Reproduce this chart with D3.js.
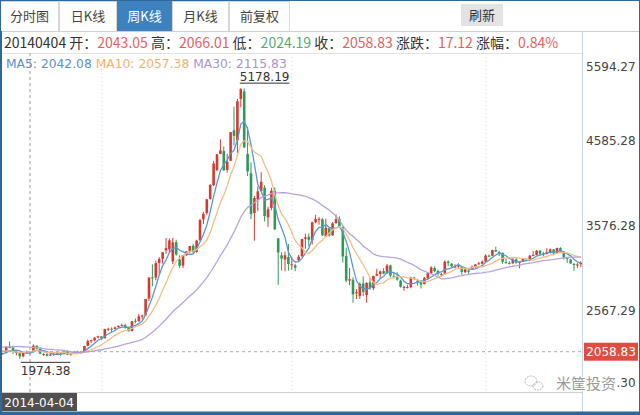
<!DOCTYPE html>
<html>
<head>
<meta charset="utf-8">
<script src="https://cdn.jsdelivr.net/npm/d3@7"></script>
<style>
body { margin: 0; background: #fff; }
text { font-family: "DejaVu Sans", "Noto Sans CJK SC", sans-serif; }
.cjk { font-family: "Noto Sans CJK SC", "DejaVu Sans", sans-serif; }
</style>
</head>
<body>
<div id="kline"></div>
<script>
// ---- DATOS ----
var tabNames = ['分时图', '日K线', '周K线', '月K线', '前复权'];
var activeTab = 2;
var refreshLabel = '刷新';

var infoDate = '20140404';
var infoLabels = ['开', '高', '低', '收', '涨跌', '涨幅'];
var infoValues = ['2043.05', '2066.01', '2024.19', '2058.83', '17.12', '0.84%'];
var infoUp = [true, true, false, true, true, true];

var maNames = ['MA5', 'MA10', 'MA30'];
var maPeriods = [5, 10, 30];
var maValues = ['2042.08', '2057.38', '2115.83'];

var axisTicks = [5594.27, 4585.28, 3576.28, 2567.29, 1558.30];
var crossIdx = 10;
var crossDate = '2014-04-04';
var crossClose = 2058.83;
var gridIdx = [31, 87, 144];
var highIdx = 72, highLabel = '5178.19';
var lowIdx = 7, lowLabel = '1974.38';
var watermark = '米筐投资';

// semanas anteriores (solo para calentar las medias moviles)
var priorCloses = [2007, 2039, 1992, 2010, 2029, 2085, 2068, 2057, 2098, 2139,
    2236, 2191, 2174, 2198, 2194, 2133, 2149, 2106, 2135, 2197,
    2220, 2238, 2196, 2085, 2101, 2116, 2083, 2013, 2004];

// velas semanales [apertura, maximo, minimo, cierre]
var weeklyK = [
    [2004, 2060, 1995, 2054], [2050, 2062, 2025, 2033], [2035, 2045, 2030, 2044], [2045, 2119, 2040, 2115],
    [2116, 2177, 2100, 2113], [2108, 2110, 2033, 2056], [2050, 2077, 2016, 2057], [2055, 2060, 1974.38, 2004],
    [2005, 2055, 1990, 2047], [2050, 2072, 2035, 2046], [2043.05, 2066.01, 2024.19, 2058.83], [2060, 2146, 2055, 2130],
    [2128, 2138, 2090, 2097], [2095, 2110, 2030, 2036], [2030, 2040, 2010, 2033], [2030, 2042, 2002, 2011],
    [2013, 2063, 2010, 2026], [2022, 2040, 2009, 2034], [2033, 2050, 2028, 2039], [2038, 2043, 2010, 2030],
    [2030, 2075, 2028, 2070], [2068, 2076, 2020, 2024], [2024, 2048, 2012, 2036], [2037, 2068, 2035, 2060],
    [2058, 2071, 2033, 2047], [2048, 2066, 2038, 2059], [2060, 2127, 2058, 2127], [2128, 2204, 2122, 2185],
    [2183, 2203, 2163, 2194], [2193, 2229, 2181, 2226], [2226, 2248, 2216, 2241], [2240, 2243, 2196, 2217],
    [2218, 2330, 2216, 2326], [2327, 2343, 2305, 2331], [2332, 2347, 2287, 2329], [2328, 2356, 2321, 2347],
    [2348, 2370, 2345, 2364], [2365, 2391, 2361, 2374], [2374, 2392, 2330, 2341], [2340, 2354, 2297, 2302],
    [2303, 2423, 2299, 2420], [2425, 2452, 2396, 2418], [2420, 2507, 2414, 2478], [2478, 2498, 2440, 2487],
    [2490, 2684, 2490, 2683], [2688, 2938, 2660, 2937], [2940, 3091, 2834, 2938], [2937, 3136, 2903, 3108],
    [3110, 3179, 2982, 3157], [3158, 3240, 3101, 3235], [3258, 3406, 3217, 3285], [3270, 3400, 3231, 3376],
    [3127, 3406, 3095, 3351], [3355, 3384, 3195, 3210], [3152, 3200, 3050, 3076], [3077, 3205, 3050, 3204],
    [3200, 3247, 3195, 3247], [3250, 3312, 3225, 3310], [3312, 3336, 3215, 3242], [3241, 3384, 3230, 3373],
    [3378, 3633, 3372, 3617], [3625, 3715, 3571, 3691], [3700, 3867, 3680, 3863], [3868, 4040, 3858, 4034],
    [4030, 4317, 4020, 4287], [4210, 4400, 4195, 4394], [4400, 4572, 4396, 4442], [4435, 4489, 4198, 4206],
    [4210, 4400, 4178, 4309], [4318, 4658, 4317, 4658], [4680, 4958, 4500, 4612], [4560, 5052, 4406, 5023],
    [5050, 5178.19, 4950, 5166], [5140, 5176, 4470, 4478], [4400, 4720, 4139, 4193], [4170, 4300, 3629, 3687],
    [3700, 3900, 3373, 3878], [3860, 4013, 3722, 3957], [3960, 4184, 3954, 4070], [4000, 4030, 3600, 3664],
    [3650, 3774, 3537, 3744], [3760, 4000, 3732, 3965], [3960, 4006, 3500, 3508], [3400, 3400, 2850, 3233],
    [3200, 3236, 3019, 3160], [3150, 3243, 3011, 3200], [3180, 3334, 3017, 3097], [3090, 3185, 3028, 3093],
    [3080, 3100, 3012, 3053], [3143, 3203, 3130, 3183], [3190, 3395, 3180, 3392], [3395, 3457, 3277, 3413],
    [3420, 3457, 3310, 3383], [3380, 3597, 3327, 3590], [3590, 3679, 3580, 3632], [3620, 3654, 3563, 3631],
    [3625, 3640, 3430, 3436], [3420, 3633, 3420, 3525], [3520, 3530, 3418, 3435], [3436, 3593, 3430, 3578],
    [3580, 3684, 3575, 3628], [3630, 3660, 3525, 3539], [3536, 3540, 3115, 3186], [3190, 3292, 2880, 2901],
    [2900, 3050, 2845, 2917], [2910, 2940, 2638, 2738], [2760, 2800, 2682, 2763], [2720, 2880, 2682, 2861],
    [2868, 2950, 2719, 2767], [2730, 2880, 2638, 2874], [2880, 2935, 2790, 2810], [2810, 2960, 2790, 2955],
    [2960, 3040, 2952, 2979], [2978, 3020, 2930, 3009], [3012, 3050, 2975, 2985], [2985, 3097, 2980, 3078],
    [3080, 3088, 2940, 2960], [2950, 2992, 2929, 2938], [2940, 3000, 2900, 2914], [2900, 2912, 2817, 2827],
    [2823, 2840, 2780, 2826], [2825, 2850, 2807, 2822], [2823, 2944, 2810, 2938], [2935, 2946, 2905, 2927],
    [2900, 2923, 2840, 2885], [2880, 2907, 2807, 2854], [2860, 2945, 2855, 2933], [2930, 3000, 2920, 2989],
    [2990, 3070, 2976, 3055], [3050, 3070, 3000, 3013], [3015, 3030, 2960, 2979], [2975, 2990, 2950, 2977],
    [2985, 3140, 2980, 3125], [3125, 3140, 3070, 3108], [3100, 3108, 3060, 3070], [3065, 3095, 3045, 3068],
    [3070, 3106, 3050, 3079], [3060, 3060, 2970, 3003], [3000, 3060, 2990, 3033], [3020, 3030, 2980, 3005],
    [3030, 3080, 3030, 3064], [3060, 3097, 3040, 3091], [3092, 3123, 3090, 3105], [3100, 3140, 3092, 3125],
    [3126, 3210, 3120, 3197], [3196, 3210, 3180, 3193], [3195, 3267, 3190, 3262], [3262, 3301, 3240, 3244],
    [3240, 3249, 3190, 3233], [3230, 3232, 3100, 3123], [3120, 3160, 3100, 3111], [3110, 3129, 3090, 3104],
    [3105, 3172, 3100, 3154], [3150, 3180, 3100, 3113], [3110, 3130, 3044, 3123], [3125, 3162, 3120, 3159],
    [3160, 3160, 3130, 3140], [3140, 3200, 3130, 3197], [3200, 3250, 3190, 3203], [3203, 3263, 3200, 3253],
    [3255, 3260, 3200, 3218], [3220, 3240, 3190, 3213], [3215, 3283, 3210, 3237], [3235, 3280, 3220, 3270],
    [3270, 3270, 3200, 3223], [3225, 3290, 3225, 3287], [3285, 3296, 3230, 3247], [3240, 3244, 3150, 3173],
    [3173, 3180, 3110, 3155], [3150, 3160, 3100, 3103], [3100, 3105, 3016, 3085], [3080, 3110, 3050, 3091],
    [3095, 3130, 3060, 3110]
];

// ---- COLORES ----
var upColor = '#d43a30', downColor = '#2f9a58';
var maColors = ['#5b97cf', '#f2bd86', '#b7a3d9'];
var maTextColors = ['#5a8fc3', '#f0b16f', '#a994cc'];
var borderBlue = '#2f679a';

// ---- TAMAÑO ----
var W = 640, H = 415;
var plotLeft = 2, plotRight = 582, plotTop = 53, plotBottom = 392;

var svg = d3.select('#kline').append('svg').attr('width', W).attr('height', H);

// ---------ESCALAS------------
var scale_x = d3.scaleLinear().domain([0, 171]).range([-4, 577.4]);
var scale_y = d3.scaleLinear().domain([axisTicks[4], axisTicks[0]]).range([394, 53]);
var candleW = 2.6;

// ---- PESTAÑAS ----
var tabEdges = [0, 59, 117, 172, 229, 290];
var tabs = svg.append('g');
tabNames.forEach(function (name, i) {
    var x0 = tabEdges[i], x1 = tabEdges[i + 1];
    tabs.append('rect').attr('x', x0 + 0.5).attr('y', 1.5).attr('width', x1 - x0 - 1).attr('height', 30)
        .attr('fill', i === activeTab ? '#3d82bf' : '#fff')
        .attr('stroke', i === activeTab ? '#3d82bf' : '#d6d6d6');
    tabs.append('text').attr('class', 'cjk').attr('x', (x0 + x1) / 2).attr('y', 21)
        .attr('text-anchor', 'middle').attr('font-size', 13)
        .attr('fill', i === activeTab ? '#fff' : '#444').text(name);
});
tabs.append('rect').attr('x', 461).attr('y', 4).attr('width', 42).attr('height', 22).attr('fill', '#e3e3e3');
tabs.append('text').attr('class', 'cjk').attr('x', 482).attr('y', 20).attr('text-anchor', 'middle')
    .attr('font-size', 13).attr('fill', '#333').text(refreshLabel);
svg.append('line').attr('x1', 0).attr('x2', W).attr('y1', 31.5).attr('y2', 31.5).attr('stroke', '#cfcfcf');

// ---- LINEA DE INFORMACION ----
svg.append('line').attr('x1', 0).attr('x2', plotRight).attr('y1', 53.5).attr('y2', 53.5).attr('stroke', '#e2e2e2');
var info = svg.append('text').attr('class', 'cjk').attr('x', 4).attr('y', 47.5).attr('font-size', 14);
info.append('tspan').attr('fill', '#333').text(infoDate + ' ');
infoLabels.forEach(function (lab, i) {
    info.append('tspan').attr('fill', '#333').text(lab + '：');
    info.append('tspan').attr('fill', infoUp[i] ? '#e06363' : '#5aa86f').text(infoValues[i] + ' ');
});

// ---- AREA DEL GRAFICO ----
svg.append('clipPath').attr('id', 'plotClip').append('rect')
    .attr('x', plotLeft).attr('y', plotTop).attr('width', plotRight - plotLeft).attr('height', plotBottom - plotTop);
var plot = svg.append('g').attr('clip-path', 'url(#plotClip)');

// lineas verticales punteadas
plot.selectAll('.vgrid').data(gridIdx).enter().append('line')
    .attr('x1', function (d) { return scale_x(d); }).attr('x2', function (d) { return scale_x(d); })
    .attr('y1', plotTop).attr('y2', plotBottom)
    .attr('stroke', '#d8d8d8').attr('stroke-dasharray', '1,3');

// velas
var candles = plot.selectAll('.k').data(weeklyK).enter().append('g');
candles.append('line')
    .attr('x1', function (d, i) { return scale_x(i); }).attr('x2', function (d, i) { return scale_x(i); })
    .attr('y1', function (d) { return scale_y(d[1]); }).attr('y2', function (d) { return scale_y(d[2]); })
    .attr('stroke', function (d) { return d[3] >= d[0] ? upColor : downColor; });
candles.append('rect')
    .attr('x', function (d, i) { return scale_x(i) - candleW / 2; })
    .attr('width', candleW)
    .attr('y', function (d) { return scale_y(Math.max(d[0], d[3])); })
    .attr('height', function (d) { return Math.max(1, Math.abs(scale_y(d[0]) - scale_y(d[3]))); })
    .attr('fill', function (d) { return d[3] >= d[0] ? upColor : downColor; });

// medias moviles
var allCloses = priorCloses.concat(weeklyK.map(function (d) { return d[3]; }));
var off = priorCloses.length;
maPeriods.forEach(function (n, k) {
    var pts = weeklyK.map(function (d, i) {
        var s = 0;
        for (var j = i + off - n + 1; j <= i + off; j++) s += allCloses[j];
        return [i, s / n];
    });
    plot.append('path')
        .attr('d', d3.line().x(function (p) { return scale_x(p[0]); }).y(function (p) { return scale_y(p[1]); })(pts))
        .attr('fill', 'none').attr('stroke', maColors[k]).attr('stroke-width', 1.3);
});

// cruz (crosshair)
plot.append('line').attr('x1', plotLeft).attr('x2', plotRight)
    .attr('y1', scale_y(crossClose)).attr('y2', scale_y(crossClose))
    .attr('stroke', '#a8a8a8').attr('stroke-dasharray', '3,3');
svg.append('line').attr('x1', scale_x(crossIdx)).attr('x2', scale_x(crossIdx))
    .attr('y1', plotTop).attr('y2', plotBottom)
    .attr('stroke', '#9a9a9a').attr('stroke-dasharray', '3,3');

// maximo y minimo
var hx = scale_x(highIdx), hy = scale_y(weeklyK[highIdx][1]);
var ht = svg.append('text').attr('x', hx - 1).attr('y', hy - 7.5).attr('font-size', 12).attr('fill', '#333').text(highLabel);
svg.append('line').attr('x1', hx - 1).attr('x2', hx - 1 + ht.node().getComputedTextLength())
    .attr('y1', hy - 5).attr('y2', hy - 5).attr('stroke', '#333');
var lx = scale_x(lowIdx), ly = scale_y(weeklyK[lowIdx][2]);
var lt = svg.append('text').attr('x', lx + 1).attr('y', ly + 16).attr('font-size', 12).attr('fill', '#333').text(lowLabel);
svg.append('line').attr('x1', lx + 1).attr('x2', lx + 1 + lt.node().getComputedTextLength())
    .attr('y1', ly + 3.5).attr('y2', ly + 3.5).attr('stroke', '#333');

// leyenda MA
var leg = svg.append('text').attr('x', 6).attr('y', 67.5).attr('font-size', 12.3);
maNames.forEach(function (m, k) {
    leg.append('tspan').attr('fill', maTextColors[k]).text(m + ': ' + maValues[k] + (k < 2 ? ' ' : ''));
});

// ---- EJE DERECHO ----
svg.append('line').attr('x1', plotRight + 0.5).attr('x2', plotRight + 0.5).attr('y1', 31).attr('y2', 412)
    .attr('stroke', '#c9d3dd');
svg.selectAll('.ytick').data(axisTicks).enter().append('text')
    .attr('x', 586).attr('font-size', 12).attr('fill', '#444')
    .attr('y', function (d, i) {
        if (i === 0) return scale_y(d) + 18;
        if (i === axisTicks.length - 1) return scale_y(d) - 7;
        return scale_y(d) + 6.5;
    })
    .text(function (d) { return d.toFixed(2); });

// etiqueta de precio actual
svg.append('rect').attr('x', 584).attr('y', scale_y(crossClose) - 9).attr('width', 54).attr('height', 18).attr('fill', '#dc4e3f');
svg.append('text').attr('x', 611).attr('y', scale_y(crossClose) + 4.5).attr('text-anchor', 'middle')
    .attr('font-size', 12).attr('fill', '#fff').text(crossClose.toFixed(2));

// eje inferior y fecha
svg.append('line').attr('x1', 0).attr('x2', plotRight).attr('y1', plotBottom + 0.5).attr('y2', plotBottom + 0.5).attr('stroke', '#cfcfcf');
svg.append('rect').attr('x', 1).attr('y', 393).attr('width', 76).attr('height', 18).attr('fill', '#505050');
svg.append('text').attr('x', 39).attr('y', 406.5).attr('text-anchor', 'middle').attr('font-size', 12)
    .attr('fill', '#fff').text(crossDate);

// marca de agua
var wm = svg.append('g');
wm.append('rect').attr('x', 583).attr('y', 374).attr('width', 34).attr('height', 18).attr('fill', '#fff').attr('opacity', 0.95);
wm.append('ellipse').attr('cx', 531).attr('cy', 381).attr('rx', 6).attr('ry', 5)
    .attr('fill', 'none').attr('stroke', '#b5b5b5').attr('stroke-dasharray', '2,1');
wm.append('ellipse').attr('cx', 538).attr('cy', 386).attr('rx', 5).attr('ry', 4)
    .attr('fill', 'none').attr('stroke', '#b5b5b5').attr('stroke-dasharray', '2,1');
wm.append('text').attr('class', 'cjk').attr('x', 556).attr('y', 389).attr('font-size', 15)
    .attr('fill', '#9a9a9a').attr('stroke', '#fff').attr('stroke-width', 2).attr('paint-order', 'stroke')
    .text(watermark);

// borde exterior
svg.append('rect').attr('x', 0.5).attr('y', 0.5).attr('width', W - 1).attr('height', H - 1)
    .attr('fill', 'none').attr('stroke', borderBlue);
svg.append('line').attr('x1', 0).attr('x2', W).attr('y1', 413).attr('y2', 413).attr('stroke', borderBlue).attr('stroke-width', 3);
svg.append('line').attr('x1', 1).attr('x2', 1).attr('y1', 31).attr('y2', 415).attr('stroke', borderBlue).attr('stroke-width', 2);
</script>
</body>
</html>
